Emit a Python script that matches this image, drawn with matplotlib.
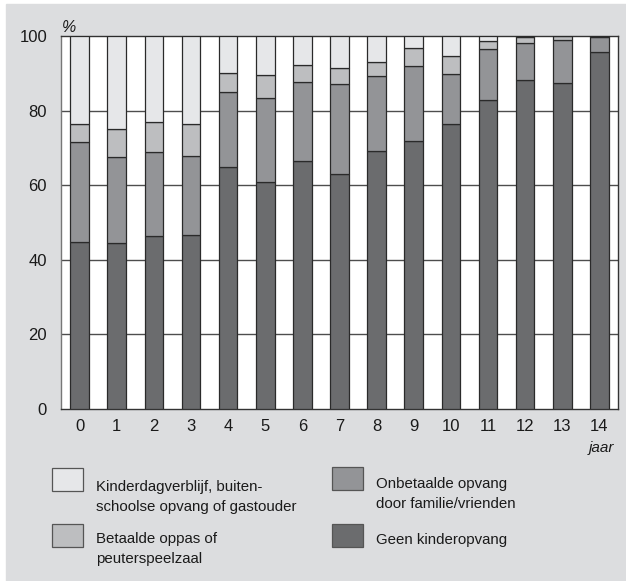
import matplotlib.pyplot as plt
import matplotlib.patches as mpatches
import numpy as np

plt.rcParams['font.family'] = ['Liberation Sans', 'DejaVu Sans']

# Leeftijd van het kind (jaar)
leeftijd = [str(i) for i in range(15)]

# Aandelen per soort opvang (%)
geen = [44.9, 44.4, 46.4, 46.7, 64.8, 60.9, 66.5, 63.0, 69.2, 71.9, 76.4, 82.8, 88.3, 87.3, 95.6]
onbetaald = [26.7, 23.2, 22.4, 21.2, 20.2, 22.6, 21.1, 24.2, 20.0, 20.0, 13.4, 13.8, 9.8, 11.6, 4.0]
betaald = [4.9, 7.6, 8.1, 8.6, 5.1, 6.0, 4.5, 4.1, 3.8, 4.8, 4.8, 2.1, 1.5, 1.0, 0.3]
kinderdag = [23.5, 24.8, 23.1, 23.5, 9.9, 10.5, 7.9, 8.7, 7.0, 3.3, 5.4, 1.3, 0.4, 0.1, 0.1]

labels = [
    'Kinderdagverblijf, buiten-\nschoolse opvang of gastouder',
    'Betaalde oppas of\npeuterspeelzaal',
    'Onbetaalde opvang\ndoor familie/vrienden',
    'Geen kinderopvang',
]
kleuren = ['#e6e7e9', '#bdbec0', '#939497', '#6b6c6e']
bg = '#dcdddf'

fig = plt.figure(figsize=(6.26, 5.81), dpi=100)
fig.patch.set_facecolor('white')
# grijs paneel
fig.patches.append(mpatches.Rectangle((6 / 626, 0), 620 / 626, 577 / 581,
                                      transform=fig.transFigure, color=bg, zorder=-5))

ax = fig.add_axes([61 / 626, 1 - 409 / 581, 557 / 626, 373 / 581])
ax.set_zorder(2)
ax.set_facecolor('white')

x = np.arange(len(leeftijd))
w = 0.5
bottom = np.zeros(len(x))
series = [geen, onbetaald, betaald, kinderdag]
cols = [kleuren[3], kleuren[2], kleuren[1], kleuren[0]]
for vals, c in zip(series, cols):
    ax.bar(x, vals, w, bottom=bottom, color=c, edgecolor='#2a2a2a', linewidth=0.9, zorder=3)
    bottom += np.array(vals)

ax.set_xlim(-0.5, 14.5)
ax.set_ylim(0, 100)
ax.set_yticks([0, 20, 40, 60, 80, 100])
ax.set_xticks(x)
ax.set_xticklabels(leeftijd)
for yv in [20, 40, 60, 80]:
    ax.axhline(yv, color='#4d4d4d', linewidth=1, zorder=1)
ax.tick_params(length=0, labelsize=12, colors='#1a1a1a')
ax.tick_params(axis='y', pad=10)
ax.tick_params(axis='x', pad=7)
for s in ax.spines.values():
    s.set_color('#333333')
    s.set_linewidth(1)
ax.spines['left'].set_color('#777777')

fig.text(62 / 626, 1 - 27 / 581, '%', fontsize=11.5, style='italic', color='#1a1a1a',
         ha='left', va='center')
fig.text(614 / 626, 1 - 448 / 581, 'jaar', fontsize=11, style='italic', color='#1a1a1a',
         ha='right', va='center')

# legenda
pos = [(52, 468, 96, 497), (52, 524, 96, 549), (332, 467, 376, 494), (332, 524, 376, 540)]
for (px, py, tx, ty), lab, c in zip(pos, labels, kleuren):
    fig.patches.append(mpatches.Rectangle((px / 626, 1 - (py + 23) / 581), 31 / 626, 23 / 581,
                                          transform=fig.transFigure, facecolor=c,
                                          edgecolor='#555555', linewidth=0.9, zorder=2))
    fig.text(tx / 626, 1 - ty / 581, lab, fontsize=10.8, color='#1a1a1a',
             ha='left', va='center', linespacing=1.5)

fig.savefig('out.png', dpi=100, facecolor=fig.get_facecolor())
